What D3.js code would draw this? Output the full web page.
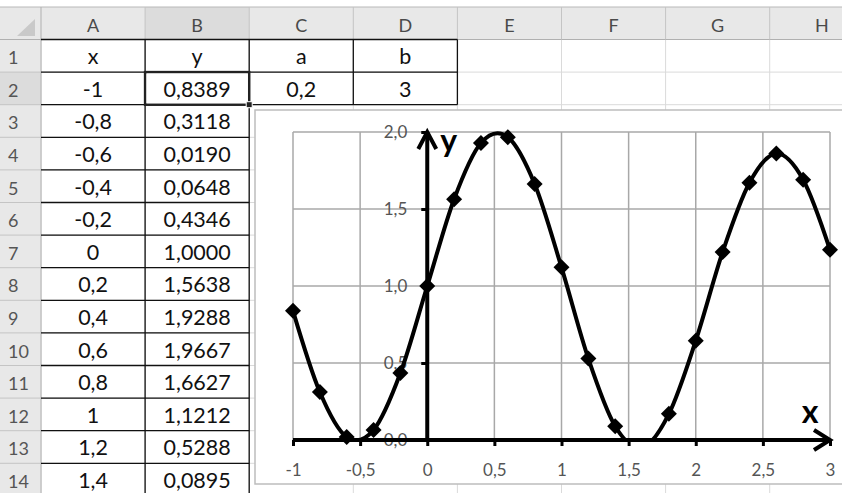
<!DOCTYPE html>
<html>
<head>
<meta charset="utf-8">
<script src="https://cdn.jsdelivr.net/npm/d3@7"></script>
<style>
  html, body { margin: 0; padding: 0; background: #fff; }
  svg { display: block; }
</style>
</head>
<body>
<div class="c_sheet"></div>
<script>

/*DATA
------------------------------------------------------
*/

// x values of the series (column A), step 0.2
const xValues = [-1, -0.8, -0.6, -0.4, -0.2, 0, 0.2, 0.4, 0.6, 0.8, 1, 1.2, 1.4,
                 1.6, 1.8, 2, 2.2, 2.4, 2.6, 2.8, 3];
// y values (column B) - rows past 14
const yValues = [0.8389, 0.3118, 0.0190, 0.0648, 0.4346, 1.0000, 1.5638, 1.9288, 1.9667, 1.6627, 1.1212, 0.5288, 0.0895,
                 -0.05, 0.17, 0.645, 1.22, 1.67, 1.86, 1.69, 1.235];

const paramNames = ["a", "b"];
const paramValues = [0.2, 3];

const columnLetters = ["A", "B", "C", "D", "E", "F", "G", "H"];
const xTicks = [-1, -0.5, 0, 0.5, 1, 1.5, 2, 2.5, 3];
const yTicks = [0, 0.5, 1, 1.5, 2];

/*INITIATE
------------------------------------------------------
*/

const width = 842;
const height = 493;

const svg = d3.select(".c_sheet")
	.append("svg")
	.attr("width", width)
	.attr("height", height);

const cellFont = "Lato, 'Open Sans', sans-serif";
const comma = v => String(v).replace(".", ",");

/*SPREADSHEET GRID
------------------------------------------------------
*/

const headerTop = 7, headerBottom = 39.5, rowH = 32.6;
const colX = d3.range(9).map(i => 41 + i * 104.1); // column boundaries
const rowY = i => headerBottom + i * rowH;          // top of row i+1

// light grid of empty cells
const grid = svg.append("g").attr("stroke", "#dadada").attr("stroke-width", 1);
d3.range(1, 16).forEach(i => {
	grid.append("line").attr("x1", 41).attr("x2", width).attr("y1", rowY(i)).attr("y2", rowY(i));
});
colX.forEach(x => {
	grid.append("line").attr("x1", x).attr("x2", x).attr("y1", headerBottom).attr("y2", height);
});

// headers
svg.append("rect").attr("x", 0).attr("y", headerTop).attr("width", width).attr("height", headerBottom - headerTop).attr("fill", "#e8e8e8");
svg.append("rect").attr("x", 0).attr("y", headerBottom).attr("width", 41).attr("height", height).attr("fill", "#e8e8e8");
svg.append("rect").attr("x", colX[1]).attr("y", headerTop).attr("width", colX[2] - colX[1]).attr("height", headerBottom - headerTop).attr("fill", "#dcdcdc");
svg.append("rect").attr("x", 0).attr("y", rowY(1)).attr("width", 41).attr("height", rowH).attr("fill", "#dcdcdc");

svg.append("line").attr("x1", 0).attr("x2", width).attr("y1", headerTop).attr("y2", headerTop).attr("stroke", "#b8b8b8");
svg.append("line").attr("x1", 0).attr("x2", width).attr("y1", headerBottom).attr("y2", headerBottom).attr("stroke", "#b0b0b0");
svg.append("line").attr("x1", 41).attr("x2", 41).attr("y1", headerTop).attr("y2", height).attr("stroke", "#b0b0b0");
colX.slice(1).forEach(x => {
	svg.append("line").attr("x1", x).attr("x2", x).attr("y1", headerTop).attr("y2", headerBottom).attr("stroke", "#c4c4c4");
});
d3.range(1, 16).forEach(i => {
	svg.append("line").attr("x1", 0).attr("x2", 41).attr("y1", rowY(i)).attr("y2", rowY(i)).attr("stroke", "#c4c4c4");
});

// corner triangle
svg.append("path").attr("d", "M35,19 L35,36 L17,36 Z").attr("fill", "#c9c9c9");

svg.selectAll(".colLetter")
	.data(columnLetters)
	.enter()
	.append("text")
	.attr("x", (d, i) => (colX[i] + colX[i + 1]) / 2)
	.attr("y", headerBottom - 8)
	.attr("text-anchor", "middle")
	.attr("font-family", cellFont)
	.attr("font-size", 18)
	.attr("fill", "#4a4a4a")
	.text(d => d);

svg.selectAll(".rowNum")
	.data(d3.range(1, 15))
	.enter()
	.append("text")
	.attr("x", 8)
	.attr("y", d => rowY(d) - 8)
	.attr("font-family", cellFont)
	.attr("font-size", 18)
	.attr("fill", "#555")
	.text(d => d);

/*TABLE
------------------------------------------------------
*/

const nRows = 13;
const tableCells = [];
tableCells.push({c: 0, r: 0, t: "x"}, {c: 1, r: 0, t: "y"});
paramNames.forEach((p, i) => {
	tableCells.push({c: 2 + i, r: 0, t: p}, {c: 2 + i, r: 1, t: comma(paramValues[i])});
});
d3.range(nRows).forEach(i => {
	tableCells.push({c: 0, r: i + 1, t: comma(xValues[i])});
	tableCells.push({c: 1, r: i + 1, t: yValues[i].toFixed(4).replace(".", ",")});
});

svg.selectAll(".cell")
	.data(tableCells)
	.enter()
	.append("text")
	.attr("x", d => (colX[d.c] + colX[d.c + 1]) / 2)
	.attr("y", d => rowY(d.r + 1) - 8)
	.attr("text-anchor", "middle")
	.attr("font-family", cellFont)
	.attr("font-size", 21.5)
	.attr("fill", "#111")
	.text(d => d.t);

// black cell borders
const borders = svg.append("g").attr("stroke", "#111").attr("stroke-width", 1.3);
[0, 1, 2].forEach(i => {
	borders.append("line").attr("x1", colX[0]).attr("x2", colX[4]).attr("y1", rowY(i)).attr("y2", rowY(i));
});
d3.range(3, nRows + 2).forEach(i => {
	borders.append("line").attr("x1", colX[0]).attr("x2", colX[2]).attr("y1", rowY(i)).attr("y2", rowY(i));
});
[1, 2].forEach(c => {
	borders.append("line").attr("x1", colX[c]).attr("x2", colX[c]).attr("y1", rowY(0)).attr("y2", height);
});
[3, 4].forEach(c => {
	borders.append("line").attr("x1", colX[c]).attr("x2", colX[c]).attr("y1", rowY(0)).attr("y2", rowY(2));
});

// selected cell B2
svg.append("rect")
	.attr("x", colX[1]).attr("y", rowY(1))
	.attr("width", colX[2] - colX[1]).attr("height", rowH)
	.attr("fill", "none").attr("stroke", "#222").attr("stroke-width", 2.5);
svg.append("rect")
	.attr("x", colX[1] + 2).attr("y", rowY(1) + 2)
	.attr("width", colX[2] - colX[1] - 4).attr("height", rowH - 4)
	.attr("fill", "none").attr("stroke", "#fff").attr("stroke-width", 1);
svg.append("rect")
	.attr("x", colX[2] - 3).attr("y", rowY(2) - 3)
	.attr("width", 6).attr("height", 6)
	.attr("fill", "#222").attr("stroke", "#fff").attr("stroke-width", 1);

/*CHART
------------------------------------------------------
*/

const chart = {left: 255, top: 110, right: 852, bottom: 484};
const plot = {left: 293, top: 132, right: 830, bottom: 440};

svg.append("rect")
	.attr("x", chart.left).attr("y", chart.top)
	.attr("width", chart.right - chart.left).attr("height", chart.bottom - chart.top)
	.attr("fill", "#fff").attr("stroke", "#bdbdbd").attr("stroke-width", 1.5);

const x = d3.scaleLinear().domain([-1, 3]).range([plot.left, plot.right]);
const y = d3.scaleLinear().domain([0, 2]).range([plot.bottom, plot.top]);

// gridlines
const gridG = svg.append("g").attr("stroke", "#a8a8a8").attr("stroke-width", 1.5);
gridG.selectAll("line.v")
	.data(xTicks)
	.enter()
	.append("line")
	.attr("x1", d => x(d)).attr("x2", d => x(d))
	.attr("y1", plot.top).attr("y2", plot.bottom);
gridG.selectAll("line.h")
	.data(yTicks)
	.enter()
	.append("line")
	.attr("x1", plot.left).attr("x2", plot.right)
	.attr("y1", d => y(d)).attr("y2", d => y(d));

// axes through the origin
const xAxis = d3.axisBottom(x).tickValues(xTicks).tickSize(6).tickFormat(comma);
const yAxis = d3.axisLeft(y).tickValues(yTicks).tickSize(6).tickFormat(d => d3.format(".1f")(d).replace(".", ","));

const gx = svg.append("g").attr("transform", `translate(0,${y(0)})`).call(xAxis);
const gy = svg.append("g").attr("transform", `translate(${x(0)},0)`).call(yAxis);

[gx, gy].forEach(g => {
	g.select(".domain").remove();
	g.selectAll(".tick line").attr("stroke", "#000").attr("stroke-width", 3);
	g.selectAll(".tick text")
		.attr("font-family", cellFont)
		.attr("font-size", 17)
		.attr("fill", "#555");
});
gx.selectAll(".tick text").attr("dy", "0").attr("y", 36);
gy.selectAll(".tick text").attr("x", -20).attr("dy", "0.35em");

// series line, clipped at y = 0
svg.append("clipPath").attr("id", "clipPlot")
	.append("rect")
	.attr("x", plot.left - 10).attr("y", plot.top - 12)
	.attr("width", plot.right - plot.left + 20).attr("height", plot.bottom - plot.top + 12);

const points = xValues.map((d, i) => ({x: d, y: yValues[i]}));

const line = d3.line()
	.x(d => x(d.x))
	.y(d => y(d.y))
	.curve(d3.curveCatmullRom.alpha(0));

svg.append("path")
	.datum(points)
	.attr("clip-path", "url(#clipPlot)")
	.attr("d", line)
	.attr("fill", "none")
	.attr("stroke", "#000")
	.attr("stroke-width", 4)
	.attr("stroke-linejoin", "round");

// axis lines with arrow heads
const axisG = svg.append("g").attr("stroke", "#000").attr("stroke-width", 4).attr("fill", "none")
	.attr("stroke-linecap", "butt").attr("stroke-linejoin", "miter");
axisG.append("line").attr("x1", plot.left).attr("x2", plot.right).attr("y1", y(0)).attr("y2", y(0));
axisG.append("path").attr("d", `M${plot.right - 16},${y(0) - 10} L${plot.right},${y(0)} L${plot.right - 16},${y(0) + 10}`);
axisG.append("line").attr("x1", x(0)).attr("x2", x(0)).attr("y1", plot.bottom).attr("y2", plot.top);
axisG.append("path").attr("d", `M${x(0) - 9},${plot.top + 17} L${x(0)},${plot.top} L${x(0) + 9},${plot.top + 17}`);

// markers
const diamond = 8;
svg.selectAll(".marker")
	.data(points.filter(d => d.y >= 0))
	.enter()
	.append("path")
	.attr("d", d => `M${x(d.x)},${y(d.y) - diamond} L${x(d.x) + diamond},${y(d.y)} L${x(d.x)},${y(d.y) + diamond} L${x(d.x) - diamond},${y(d.y)} Z`)
	.attr("fill", "#000");

// axis names
svg.append("text")
	.attr("x", x(0) + 13).attr("y", plot.top + 20)
	.attr("font-family", cellFont).attr("font-weight", "bold").attr("font-size", 32)
	.text("y");
svg.append("text")
	.attr("x", plot.right - 20).attr("y", y(0) - 17)
	.attr("text-anchor", "middle")
	.attr("font-family", cellFont).attr("font-weight", "bold").attr("font-size", 32)
	.text("x");

</script>
</body>
</html>
